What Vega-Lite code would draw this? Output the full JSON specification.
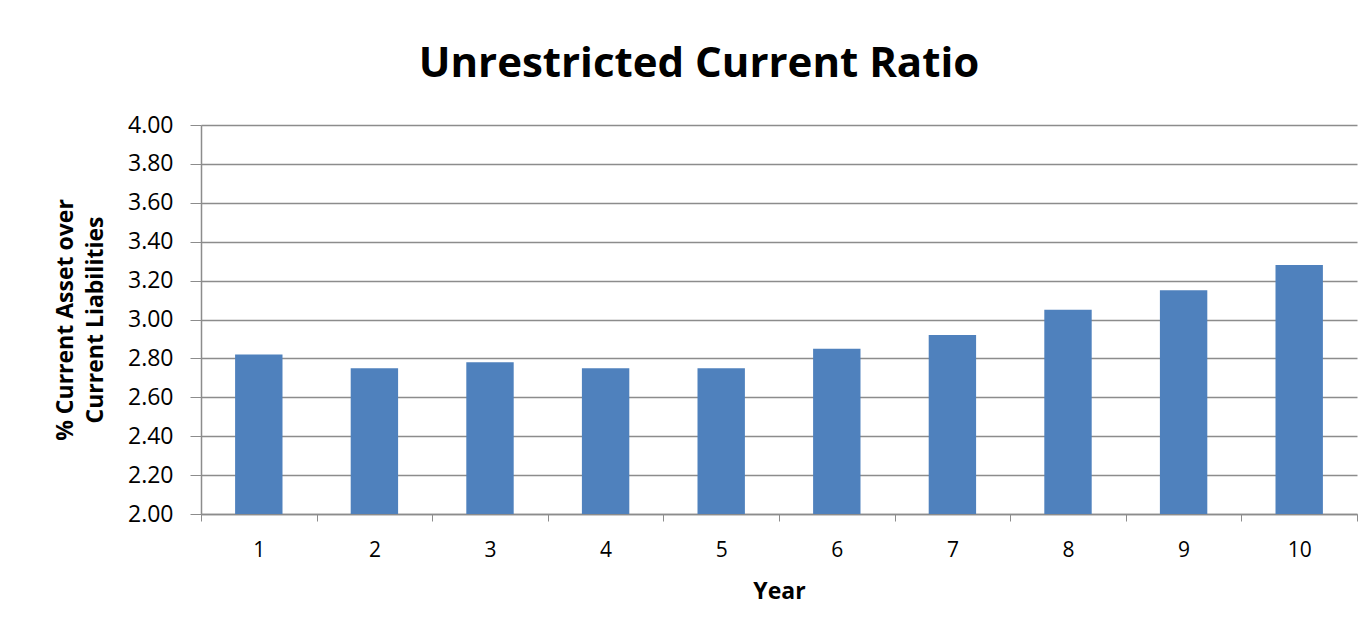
{
  "$schema": "https://vega.github.io/schema/vega-lite/v6.json",
  "width": 1156,
  "height": 389,
  "autosize": {"type": "none"},
  "padding": {"left": 201, "top": 125, "right": 12, "bottom": 122},
  "background": "white",
  "title": {
    "text": "Unrestricted Current Ratio",
    "font": "Open Sans",
    "fontSize": 42,
    "fontWeight": "bold",
    "color": "#000000",
    "anchor": "middle",
    "frame": "group",
    "dx": -80,
    "baseline": "alphabetic",
    "offset": -5
  },
  "data": {
    "values": [
      {"year": "1", "ratio": 2.82},
      {"year": "2", "ratio": 2.75},
      {"year": "3", "ratio": 2.78},
      {"year": "4", "ratio": 2.75},
      {"year": "5", "ratio": 2.75},
      {"year": "6", "ratio": 2.85},
      {"year": "7", "ratio": 2.92},
      {"year": "8", "ratio": 3.05},
      {"year": "9", "ratio": 3.15},
      {"year": "10", "ratio": 3.28}
    ]
  },
  "mark": {"type": "bar", "color": "#4F81BD", "width": {"band": 0.41}},
  "encoding": {
    "x": {
      "field": "year",
      "type": "ordinal",
      "sort": null,
      "scale": {"paddingInner": 0, "paddingOuter": 0},
      "axis": {
        "title": "Year",
        "titleFont": "Open Sans",
        "titleFontSize": 23,
        "titleFontWeight": "bold",
        "titleColor": "#000000",
        "titlePadding": 20,
        "labelFont": "Open Sans",
        "labelFontSize": 21,
        "labelColor": "#000000",
        "labelAngle": 0,
        "labelPadding": 18,
        "tickBand": "extent",
        "tickSize": 7,
        "tickColor": "#8c8c8c",
        "domainColor": "#8c8c8c",
        "domainWidth": 1.5,
        "grid": false
      }
    },
    "y": {
      "field": "ratio",
      "type": "quantitative",
      "scale": {"domain": [2, 4], "zero": false, "nice": false},
      "axis": {
        "title": ["% Current Asset over", "Current Liabilities"],
        "titleFont": "Open Sans",
        "titleFontSize": 23,
        "titleFontWeight": "bold",
        "titleColor": "#000000",
        "titleLineHeight": 30,
        "titlePadding": 20,
        "values": [2, 2.2, 2.4, 2.6, 2.8, 3, 3.2, 3.4, 3.6, 3.8, 4],
        "format": ".2f",
        "labelFont": "Open Sans",
        "labelFontSize": 23,
        "labelColor": "#000000",
        "labelPadding": 17,
        "tickSize": 11,
        "tickColor": "#8c8c8c",
        "domainColor": "#8c8c8c",
        "domainWidth": 1.5,
        "grid": true,
        "gridColor": "#8c8c8c",
        "gridWidth": 1.5
      }
    },
    "y2": {"datum": 2}
  },
  "config": {
    "view": {"stroke": null}
  }
}
